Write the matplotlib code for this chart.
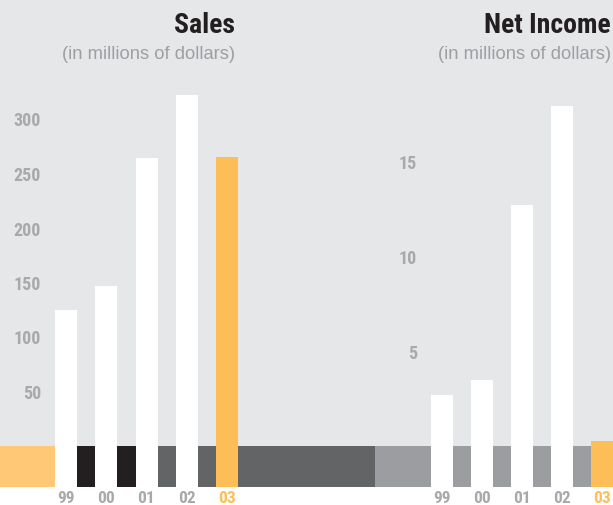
import matplotlib
matplotlib.use("Agg")
import matplotlib.pyplot as plt
from matplotlib.font_manager import fontManager

years = ["99", "00", "01", "02", "03"]
sales = [124, 146, 264, 322, 265]
net_income = [2.7, 3.5, 12.7, 17.9, 0.25]
sales_ticks = [50, 100, 150, 200, 250, 300]
ni_ticks = [5, 10, 15]

BG = "#e6e7e9"
WHITE = "#ffffff"
ORANGE = "#fdbe57"
LT_ORANGE = "#fec877"
BLACK = "#231f20"
DKGREY = "#636466"
LTGREY = "#9b9da0"
TICKGREY = "#a8a9ab"
SUBGREY = "#9d9fa2"


def _w(f):
    w = f.weight
    if isinstance(w, str):
        return {"bold": 700, "semibold": 600, "demibold": 600, "heavy": 800,
                "black": 900, "extra bold": 800}.get(w, 400)
    return int(w)


bold_names = {f.name for f in fontManager.ttflist if _w(f) in (700,) and f.style == "normal"}
prefs = ["Roboto Condensed", "Arimo Narrow", "Liberation Sans Narrow", "PT Sans Narrow",
         "Archivo Narrow", "Fira Sans Condensed", "IBM Plex Sans Condensed",
         "Barlow Condensed", "Encode Sans Condensed", "Open Sans Condensed",
         "Saira Condensed", "Asap Condensed", "Roboto"]
COND = next((p for p in prefs if p in bold_names), "DejaVu Sans")
REG = "Liberation Sans"

W, H = 613, 506
fig = plt.figure(figsize=(W / 100, H / 100), dpi=100, facecolor="white")


def px_axes(x0, x1, y0, y1):
    return fig.add_axes([x0 / W, 1 - y1 / H, (x1 - x0) / W, (y1 - y0) / H])


band_bot = 488


def panel(x0, x1, first_center, step, values, ppu, zero_px, ticks, tick_right,
          band_segments, title, title_right):
    ax = px_axes(x0, x1, 0, band_bot)
    ax.set_facecolor(BG)
    for s in ax.spines.values():
        s.set_visible(False)
    xl = (x0 - first_center) / step
    xr = (x1 - first_center) / step
    ax.set_xlim(xl, xr)
    ybot = -(band_bot - zero_px) / ppu
    ytop = zero_px / ppu
    ax.set_ylim(ybot, ytop)
    for (a, b, c) in band_segments:
        a = xl if a is None else a
        b = xr if b is None else b
        ax.fill_between([a, b], ybot, 0, color=c, linewidth=0, zorder=1)
    xs = list(range(len(values)))
    colors = [WHITE] * (len(values) - 1) + [ORANGE]
    ax.bar(xs, [v - ybot for v in values], bottom=ybot, width=22 / step,
           color=colors, linewidth=0, zorder=2)
    ax.set_xticks(xs)
    ax.set_xticklabels(years, fontfamily=COND, fontweight="bold", fontsize=12.5)
    for lab, c in zip(ax.get_xticklabels(), [TICKGREY] * 4 + [ORANGE]):
        lab.set_color(c)
    ax.tick_params(axis="x", length=0, pad=2.5)
    ax.set_yticks(ticks)
    ax.set_yticklabels([str(t) for t in ticks], fontfamily=COND,
                       fontweight="bold", fontsize=13, color=TICKGREY)
    ax.tick_params(axis="y", length=0, pad=-(tick_right - x0) * 0.72)
    fig.text(title_right / W, 1 - 33 / H, title, ha="right", va="baseline",
             fontfamily=COND, fontweight="bold", fontsize=20, color=BLACK)
    fig.text(title_right / W, 1 - 59 / H, "(in millions of dollars)", ha="right",
             va="baseline", fontfamily=REG, fontsize=13.2, color=SUBGREY)
    return ax


ax1 = panel(0, 375, 66, 40.25, sales, 1.09, 446.5, sales_ticks, 41,
            [(None, -0.5 * 22 / 40.25, LT_ORANGE),
             (-0.5 * 22 / 40.25, 2 + 0.5 * 22 / 40.25, BLACK),
             (2 + 0.5 * 22 / 40.25, None, DKGREY)],
            "Sales", 235)
ax2 = panel(375, 613, 442, 40, net_income, 19.0, 447, ni_ticks, 417,
            [(None, None, LTGREY)],
            "Net Income", 611)

fig.savefig("out.png", dpi=100, facecolor="white")
